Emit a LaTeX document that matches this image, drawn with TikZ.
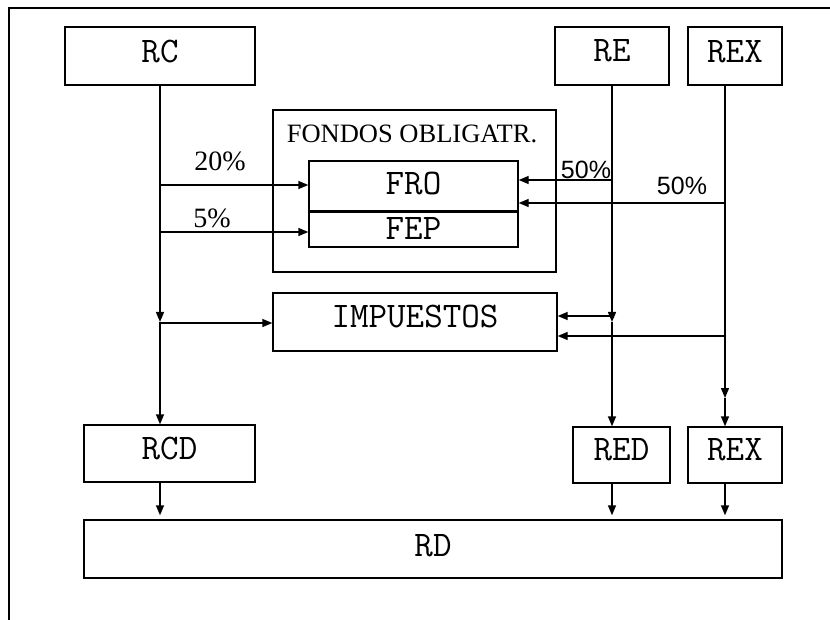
\documentclass[tikz,border=0pt]{standalone}
\usepackage{fontspec}
\newfontfamily\lblserif{Liberation Serif}
\newfontfamily\lblsans{Liberation Sans}
\usetikzlibrary{arrows.meta}
\begin{document}
\begin{tikzpicture}[x=1pt,y=-1pt,
  box/.style={draw, line width=1.4pt, inner sep=0pt, font=\ttfamily\fontsize{36}{36}\selectfont, text depth=10pt},
  flow/.style={line width=1.4pt, -{Triangle[length=10pt,width=8pt]}},
  pct/.style={inner sep=0pt, font=\lblserif\fontsize{28}{28}\selectfont},
  pcts/.style={inner sep=0pt, font=\lblsans\fontsize{25}{25}\selectfont}]
\useasboundingbox (0,0) rectangle (830,620);
\draw[line width=1.6pt] (9,620) -- (9,8) -- (830,8);

% boxes
\node[box, minimum width=190pt, minimum height=58pt] (rc) at (160,56) {RC};
\node[box, minimum width=114pt, minimum height=58pt] (re) at (612,56) {RE};
\node[box, minimum width=94pt, minimum height=58pt, text depth=8pt] (rex) at (735,56) {REX};
\node[draw, line width=1.4pt, minimum width=283pt, minimum height=162pt] (fondos) at (414.5,191) {};
\node[inner sep=0pt, font=\lblserif\fontsize{26.5}{26.5}\selectfont] (fondoslbl) at (412,134) {FONDOS OBLIGATR.};
\node[box, minimum width=209pt, minimum height=50pt, text depth=6pt] (fro) at (413.5,186) {FRO};
\node[box, minimum width=209pt, minimum height=36pt, text depth=0pt] (fep) at (413.5,229) {FEP};
\draw[line width=3.2pt] (fro.south west) -- (fro.south east);
\node[box, minimum width=284pt, minimum height=58pt, text depth=12pt] (imp) at (415,322) {IMPUESTOS};
\node[box, minimum width=171pt, minimum height=57pt, text depth=11pt] (rcd) at (169.5,453.5) {RCD};
\node[box, minimum width=97pt, minimum height=56pt, text depth=11pt] (red) at (621.5,455) {RED};
\node[box, minimum width=94pt, minimum height=56pt, text depth=11pt] (rexd) at (735,455) {REX};
\node[box, minimum width=698pt, minimum height=58pt, text depth=8pt] (rd) at (433,549) {RD};

% junction coordinates
\coordinate (jc) at (160,322);
\coordinate (je) at (612,322);
\coordinate (jx) at (725,398);
\coordinate (c20) at (160,185);
\coordinate (c5) at (160,232);
\coordinate (ci) at (160,323);
\coordinate (e50) at (612,180);
\coordinate (x50) at (725,203);
\coordinate (ei) at (612,316);
\coordinate (xi) at (725,336);

% verticals
\draw[flow] (rc.south -| jc) -- (jc);
\draw[flow] (jc) -- (jc |- rcd.north);
\draw[flow] (re.south -| je) -- (je);
\draw[flow] (je) -- (je |- red.north);
\draw[flow] (rex.south -| jx) -- (jx);
\draw[flow] (jx) -- (jx |- rexd.north);

% horizontals
\draw[flow] (c20) -- (c20 -| fro.west);
\draw[flow] (c5) -- (c5 -| fep.west);
\draw[flow] (ci) -- (ci -| imp.west);
\draw[flow] (e50) -- (e50 -| fro.east);
\draw[flow] (x50) -- (x50 -| fro.east);
\draw[flow] (ei) -- (ei -| imp.east);
\draw[flow] (xi) -- (xi -| imp.east);

% labels
\node[pct] (l20) at (220,161) {20\%};
\node[pct] (l5) at (212,218) {5\%};
\node[pcts] (l50a) at (586,170) {50\%};
\node[pcts] (l50b) at (682,186) {50\%};

% to RD
\draw[flow, shorten >=4pt] (jc |- rcd.south) -- (jc |- rd.north);
\draw[flow, shorten >=4pt] (je |- red.south) -- (je |- rd.north);
\draw[flow, shorten >=4pt] (jx |- rexd.south) -- (jx |- rd.north);
\end{tikzpicture}
\end{document}
